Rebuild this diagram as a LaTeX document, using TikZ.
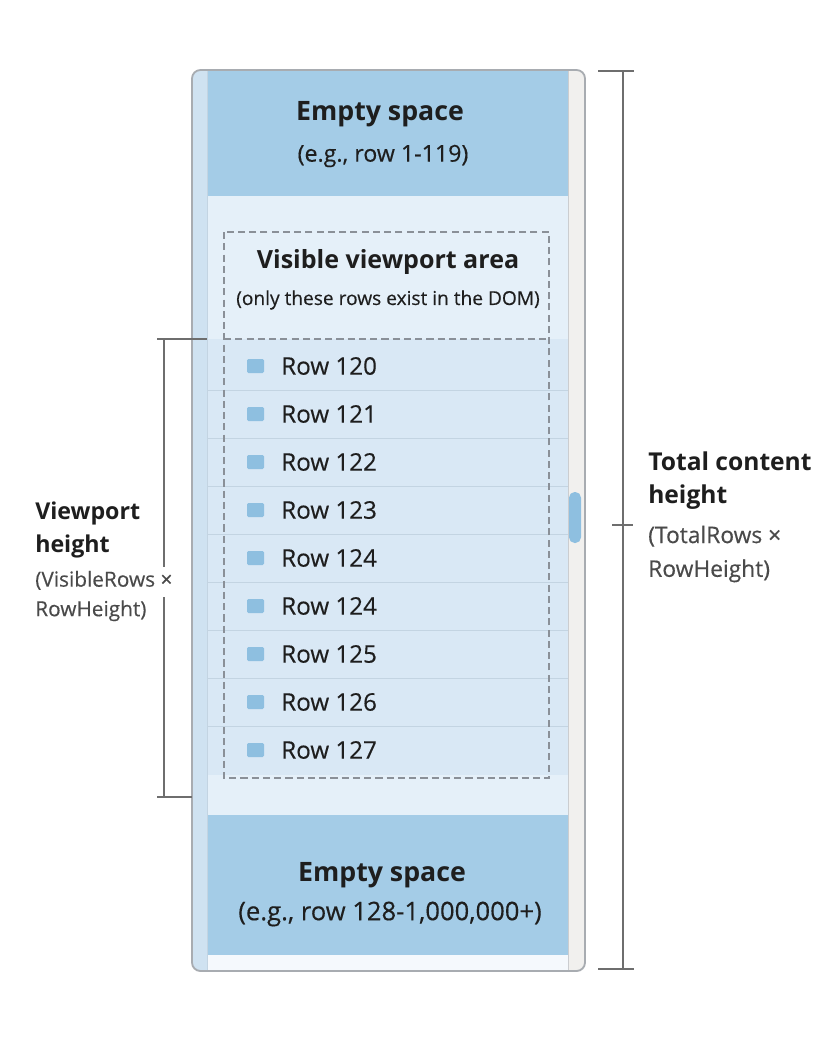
\documentclass[tikz,border=0pt]{standalone}
\usepackage{fontspec}
\setmainfont{Open Sans}
\newfontfamily\medfont{Open Sans}[FakeBold=0.35]
\usetikzlibrary{positioning}
\definecolor{emptyblue}{HTML}{A4CCE7}
\definecolor{paleblue}{HTML}{E5F0F9}
\definecolor{rowblue}{HTML}{D9E8F5}
\definecolor{rowline}{HTML}{C3D4E2}
\definecolor{stripblue}{HTML}{CFE2F1}
\definecolor{trackgray}{HTML}{F1F0EE}
\definecolor{framegray}{HTML}{A8ACB1}
\definecolor{dashgray}{HTML}{8A9098}
\definecolor{dimgray}{HTML}{6E6E6E}
\definecolor{squareblue}{HTML}{8EBFE0}
\definecolor{inkdark}{HTML}{1E1E1E}
\definecolor{inksoft}{HTML}{4A4A4A}
\tikzset{
	label/.style={inner sep=0pt,text=inkdark},
	title/.style={label,font=\fontsize{19}{23}\selectfont\bfseries},
	note/.style={label,font=\medfont\fontsize{16.5}{20}\selectfont},
	rowtext/.style={label,anchor=west,font=\medfont\fontsize{17.2}{20}\selectfont},
	square/.style={fill=squareblue,rounded corners=1pt},
	sep/.style={draw=rowline,line width=0.6pt},
	dimline/.style={draw=dimgray,line width=1pt},
	sidetitle/.style={label,anchor=west,align=left,font=\fontsize{16.5}{23.5}\selectfont\bfseries},
	sidenote/.style={label,anchor=west,align=left,text=inksoft},
}

\begin{document}
\begin{tikzpicture}[x=0.025cm,y=-0.025cm]
	\useasboundingbox[fill=white] (0,0) rectangle (840,1040);

	% scroll container
	\begin{scope}
		\clip[rounded corners=6pt] (192,70) rectangle (585,971);
		\fill[trackgray] (192,70) rectangle (585,971);
		\fill[stripblue] (192,70) rectangle (207,971);
		\fill[emptyblue] (207,70) rectangle (568,196);
		\fill[paleblue] (207,196) rectangle (568,339);
		\fill[rowblue] (207,339) rectangle (568,775);
		\fill[paleblue] (207,775) rectangle (568,815);
		\fill[emptyblue] (207,815) rectangle (568,955);
		\fill[white!60!paleblue] (207,955) rectangle (568,971);
		\draw[sep] (207,390) -- (568,390);
		\draw[sep] (207,438) -- (568,438);
		\draw[sep] (207,486) -- (568,486);
		\draw[sep] (207,534) -- (568,534);
		\draw[sep] (207,582) -- (568,582);
		\draw[sep] (207,630) -- (568,630);
		\draw[sep] (207,678) -- (568,678);
		\draw[sep] (207,726) -- (568,726);
		\draw[rowline] (207,70) -- (207,971);
		\draw[framegray!60] (568,70) -- (568,971);
	\end{scope}
	\draw[framegray,line width=1.3pt,rounded corners=6pt] (192,70) rectangle (585,971);
	\fill[squareblue,rounded corners=4pt] (569,492) rectangle (581,543);

	% visible viewport
	\draw[dashgray,line width=1pt,dash pattern=on 5pt off 3pt] (224,232) rectangle (549,778);
	\draw[dashgray,line width=1pt,dash pattern=on 5pt off 3pt] (224,339) -- (549,339);

	\node[title] (topTitle) at (380,114) {Empty space};
	\node[note] (topNote) at (383,156) {(e.g., row 1-119)};
	\node[title,font=\fontsize{17.8}{21}\selectfont\bfseries] (vpTitle) at (388,262) {Visible viewport area};
	\node[note,font=\medfont\fontsize{13.6}{15}\selectfont] (vpNote) at (388,300) {(only these rows exist in the DOM)};
	\node[title] (botTitle) at (382,875) {Empty space};
	\node[note,font=\medfont\fontsize{18.2}{20}\selectfont] (botNote) at (390,914) {(e.g., row 128-1,000,000+)};

	% rows
	\fill[square] (247,359) rectangle (264,373);
	\node[rowtext] (r120) at (281,366) {Row 120};
	\fill[square] (247,407) rectangle (264,421);
	\node[rowtext] (r121) at (281,414) {Row 121};
	\fill[square] (247,455) rectangle (264,469);
	\node[rowtext] (r122) at (281,462) {Row 122};
	\fill[square] (247,503) rectangle (264,517);
	\node[rowtext] (r123) at (281,510) {Row 123};
	\fill[square] (247,551) rectangle (264,565);
	\node[rowtext] (r124) at (281,558) {Row 124};
	\fill[square] (247,599) rectangle (264,613);
	\node[rowtext] (r124b) at (281,606) {Row 124};
	\fill[square] (247,647) rectangle (264,661);
	\node[rowtext] (r125) at (281,654) {Row 125};
	\fill[square] (247,695) rectangle (264,709);
	\node[rowtext] (r126) at (281,702) {Row 126};
	\fill[square] (247,743) rectangle (264,757);
	\node[rowtext] (r127) at (281,750) {Row 127};

	% total content height
	\coordinate (totTop) at (623,71);
	\coordinate (totMid) at (623,525);
	\coordinate (totBot) at (623,969);
	\draw[dimline] (totTop) -- (totBot);
	\draw[dimline] (totTop) +(-25,0) -- +(11,0);
	\draw[dimline] (totMid) +(-11,0) -- +(10,0);
	\draw[dimline] (totBot) +(-25,0) -- +(11,0);
	\node[sidetitle,font=\fontsize{17.5}{23.5}\selectfont\bfseries] (totTitle) at (648,481) {Total content\\height};
	\node[sidenote,font=\medfont\fontsize{16.2}{24}\selectfont] (totNote) at (648,554) {(TotalRows ×\\RowHeight)};

	% viewport height
	\coordinate (vpTop) at (164,339);
	\coordinate (vpGapA) at (164,567);
	\coordinate (vpGapB) at (164,597);
	\coordinate (vpBot) at (164,797);
	\draw[dimline] (vpTop) -- (vpGapA);
	\draw[dimline] (vpGapB) -- (vpBot);
	\draw[dimline] (vpTop) +(-7,0) -- +(43,0);
	\draw[dimline] (vpBot) +(-7,0) -- +(28,0);
	\node[sidetitle] (vpSideTitle) at (35,530) {Viewport\\height};
	\node[sidenote,font=\medfont\fontsize{14.8}{21}\selectfont] (vpSideNote) at (35,596) {(VisibleRows ×\\RowHeight)};
\end{tikzpicture}
\end{document}
